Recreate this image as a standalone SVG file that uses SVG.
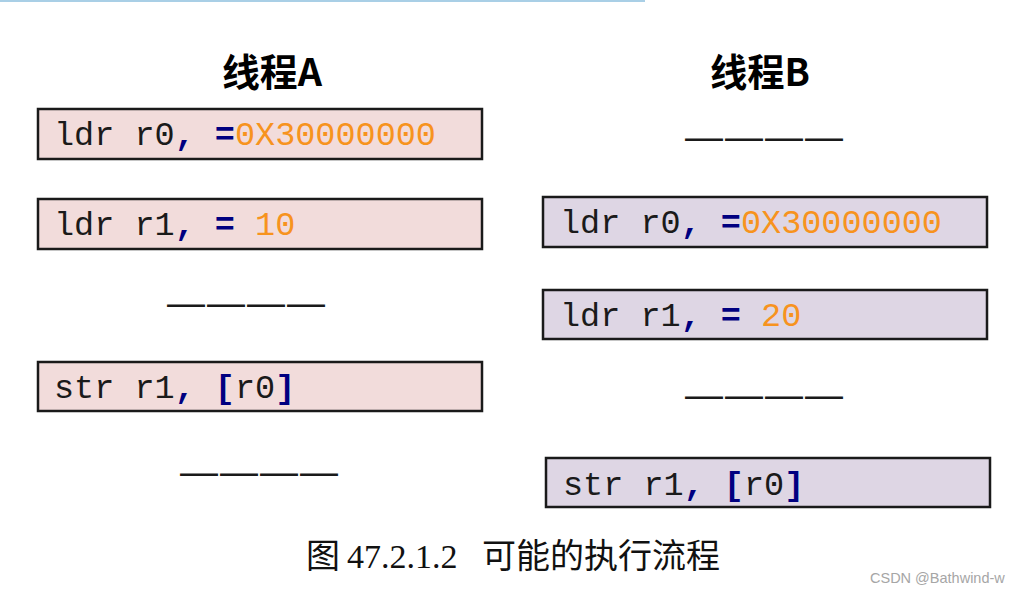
<svg xmlns="http://www.w3.org/2000/svg" width="1026" height="592" viewBox="0 0 1026 592">
<style>
.boxA{fill:#f2dcdb;stroke:#1a1a1a;stroke-width:2.5}
.boxB{fill:#ded6e4;stroke:#1a1a1a;stroke-width:2.5}
.code{font-family:"Liberation Mono","Courier New",monospace;font-size:33.5px;fill:#1a1a1a}
.op{fill:#000080;font-weight:bold}
.num{fill:#f7931e}
.title{font-family:"Noto Sans CJK SC",sans-serif;font-weight:bold;font-size:38px;fill:#000}
.dash{font-family:"Liberation Sans",sans-serif;font-size:38px;fill:#1a1a1a;letter-spacing:2px}
.cap{font-family:"Liberation Serif","Noto Sans CJK SC",serif;font-size:34px;fill:#111}
.wm{font-family:"Liberation Sans",sans-serif;font-size:14.5px;fill:#a6a6a6}
</style>
<rect x="0" y="0" width="645" height="2" fill="#a9cfe6"/>
<g id="titleA"><text class="title" x="222" y="86" textLength="100" lengthAdjust="spacingAndGlyphs">线程A</text></g>
<g id="titleB"><text class="title" x="710" y="86" textLength="100" lengthAdjust="spacingAndGlyphs">线程B</text></g>
<g id="a1"><rect class="boxA" x="38" y="109" width="444" height="50"/><text class="code" x="54" y="145">ldr r0<tspan class="op">, =</tspan><tspan class="num">0X30000000</tspan></text></g>
<g id="a2"><rect class="boxA" x="38" y="199" width="444" height="50"/><text class="code" x="54" y="235">ldr r1<tspan class="op">, = </tspan><tspan class="num">10</tspan></text></g>
<g id="a-gap1"><text class="dash" x="167" y="316">————</text></g>
<g id="a3"><rect class="boxA" x="38" y="362" width="444" height="49"/><text class="code" x="54" y="398">str r1<tspan class="op">, [</tspan>r0<tspan class="op">]</tspan></text></g>
<g id="a-gap2"><text class="dash" x="180" y="485">————</text></g>
<g id="b-gap0"><text class="dash" x="685" y="150">————</text></g>
<g id="b1"><rect class="boxB" x="543" y="197" width="444" height="50"/><text class="code" x="560" y="233">ldr r0<tspan class="op">, =</tspan><tspan class="num">0X30000000</tspan></text></g>
<g id="b2"><rect class="boxB" x="543" y="290" width="444" height="49"/><text class="code" x="560" y="326">ldr r1<tspan class="op">, = </tspan><tspan class="num">20</tspan></text></g>
<g id="b-gap1"><text class="dash" x="685" y="408">————</text></g>
<g id="b3"><rect class="boxB" x="546" y="458" width="444" height="49"/><text class="code" x="563" y="495">str r1<tspan class="op">, [</tspan>r0<tspan class="op">]</tspan></text></g>
<g id="caption"><text class="cap" y="568"><tspan x="306">图</tspan><tspan x="347">47.2.1.2</tspan><tspan x="482">可能的执行流程</tspan></text></g>
<g id="connectors"></g>
<text class="wm" x="870" y="583">CSDN @Bathwind-w</text>
</svg>
